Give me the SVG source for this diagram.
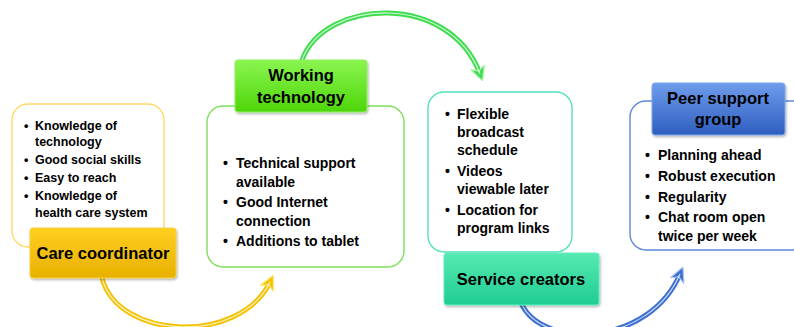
<svg xmlns="http://www.w3.org/2000/svg" width="794" height="327" viewBox="0 0 794 327">
<style>
.box{fill:#fff;stroke-width:1.4}
.lbl{stroke-width:1;filter:url(#sh)}
.t{font-family:"Liberation Sans",Arial,sans-serif;font-weight:bold;fill:#000}
.head{font-size:16.5px;text-anchor:middle}
.b14{font-size:14px}
.b12{font-size:12.5px}
.arr{fill:none;stroke-width:5;stroke-linecap:round}
.hl{fill:none;stroke:#fff;stroke-width:1.2;stroke-opacity:0.75}
</style>
<defs>
<filter id="sh" x="-10%" y="-10%" width="120%" height="130%"><feDropShadow dx="1" dy="1.5" stdDeviation="1.2" flood-opacity="0.3"/></filter>
<linearGradient id="gy" x1="0" y1="0" x2="0" y2="1"><stop offset="0" stop-color="#FFCF20"/><stop offset="1" stop-color="#E8B000"/></linearGradient>
<linearGradient id="gg" x1="0" y1="0" x2="0" y2="1"><stop offset="0" stop-color="#8AF550"/><stop offset="1" stop-color="#4ED60A"/></linearGradient>
<linearGradient id="gt" x1="0" y1="0" x2="0" y2="1"><stop offset="0" stop-color="#55EAB2"/><stop offset="1" stop-color="#1FCC92"/></linearGradient>
<linearGradient id="gb" x1="0" y1="0" x2="0" y2="1"><stop offset="0" stop-color="#6E9CEB"/><stop offset="1" stop-color="#2F5EC0"/></linearGradient>
<marker id="my" viewBox="0 0 10 10" refX="5" refY="5" markerWidth="3" markerHeight="3" orient="auto" markerUnits="strokeWidth"><path d="M0,0 L10,5 L0,10 L3,5 Z" fill="#F5C400" stroke="#FFE680" stroke-width="0.8"/></marker>
<marker id="mg" viewBox="0 0 10 10" refX="5" refY="5" markerWidth="3" markerHeight="3" orient="auto" markerUnits="strokeWidth"><path d="M0,0 L10,5 L0,10 L3,5 Z" fill="#3FDC50" stroke="#B0F5B0" stroke-width="0.8"/></marker>
<marker id="mb" viewBox="0 0 10 10" refX="5" refY="5" markerWidth="3" markerHeight="3" orient="auto" markerUnits="strokeWidth"><path d="M0,0 L10,5 L0,10 L3,5 Z" fill="#3C6FD0" stroke="#A8C4F2" stroke-width="0.8"/></marker>
</defs>

<g id="connectors">
<path class="arr" stroke="#F2C200" d="M102,278 C118,340 240,345 270,282" marker-end="url(#my)"/>
<path class="hl" d="M102,278 C118,340 240,345 270,282"/>
<path class="arr" stroke="#3FDC50" d="M302,60 C325,-2 450,-8 480,74" marker-end="url(#mg)"/>
<path class="hl" d="M302,60 C325,-2 450,-8 480,74"/>
<path class="arr" stroke="#3C6FD0" d="M522,305 C545,350 650,345 680,274" marker-end="url(#mb)"/>
<path class="hl" d="M522,305 C545,350 650,345 680,274"/>
</g>

<g id="care-coordinator">
<rect class="box" x="12" y="104" width="152" height="143" rx="16" stroke="#FFD966"/>
<text class="t b12" x="24" y="130">•</text>
<text class="t b12" x="35" y="130">Knowledge of</text>
<text class="t b12" x="35" y="145.5">technology</text>
<text class="t b12" x="24" y="163.5">•</text>
<text class="t b12" x="35" y="163.5">Good social skills</text>
<text class="t b12" x="24" y="182">•</text>
<text class="t b12" x="35" y="182">Easy to reach</text>
<text class="t b12" x="24" y="200">•</text>
<text class="t b12" x="35" y="200">Knowledge of</text>
<text class="t b12" x="35" y="217">health care system</text>
<rect class="lbl" x="30" y="228" width="146" height="50" rx="3" fill="url(#gy)" stroke="#F5D040"/>
<text class="t head" x="103" y="259">Care coordinator</text>
</g>

<g id="working-technology">
<rect class="box" x="207" y="106" width="197" height="161" rx="16" stroke="#7CE05A"/>
<text class="t b14" x="223" y="168">•</text>
<text class="t b14" x="236" y="168">Technical support</text>
<text class="t b14" x="236" y="187">available</text>
<text class="t b14" x="223" y="207">•</text>
<text class="t b14" x="236" y="207">Good Internet</text>
<text class="t b14" x="236" y="226">connection</text>
<text class="t b14" x="223" y="246">•</text>
<text class="t b14" x="236" y="246">Additions to tablet</text>
<rect class="lbl" x="235" y="60" width="132" height="52" rx="3" fill="url(#gg)" stroke="#90F060"/>
<text class="t head" x="301" y="81">Working</text>
<text class="t head" x="301" y="103">technology</text>
</g>

<g id="service-creators">
<rect class="box" x="428" y="92" width="144" height="160" rx="16" stroke="#55E0B8"/>
<text class="t b14" x="445" y="119">•</text>
<text class="t b14" x="457" y="119">Flexible</text>
<text class="t b14" x="457" y="137">broadcast</text>
<text class="t b14" x="457" y="155">schedule</text>
<text class="t b14" x="445" y="176">•</text>
<text class="t b14" x="457" y="176">Videos</text>
<text class="t b14" x="457" y="194">viewable later</text>
<text class="t b14" x="445" y="215">•</text>
<text class="t b14" x="457" y="215">Location for</text>
<text class="t b14" x="457" y="233">program links</text>
<rect class="lbl" x="444" y="253" width="155" height="52" rx="3" fill="url(#gt)" stroke="#60EEC0"/>
<text class="t head" x="521" y="285">Service creators</text>
</g>

<g id="peer-support-group">
<rect class="box" x="630" y="101" width="180" height="149" rx="16" stroke="#5B88D8"/>
<text class="t b14" x="645" y="160">•</text>
<text class="t b14" x="658" y="160">Planning ahead</text>
<text class="t b14" x="645" y="181">•</text>
<text class="t b14" x="658" y="181">Robust execution</text>
<text class="t b14" x="645" y="202">•</text>
<text class="t b14" x="658" y="202">Regularity</text>
<text class="t b14" x="645" y="222">•</text>
<text class="t b14" x="658" y="222">Chat room open</text>
<text class="t b14" x="658" y="241">twice per week</text>
<rect class="lbl" x="652" y="83" width="133" height="52" rx="3" fill="url(#gb)" stroke="#7EA6EE"/>
<text class="t head" x="718" y="104">Peer support</text>
<text class="t head" x="718" y="125">group</text>
</g>
</svg>
